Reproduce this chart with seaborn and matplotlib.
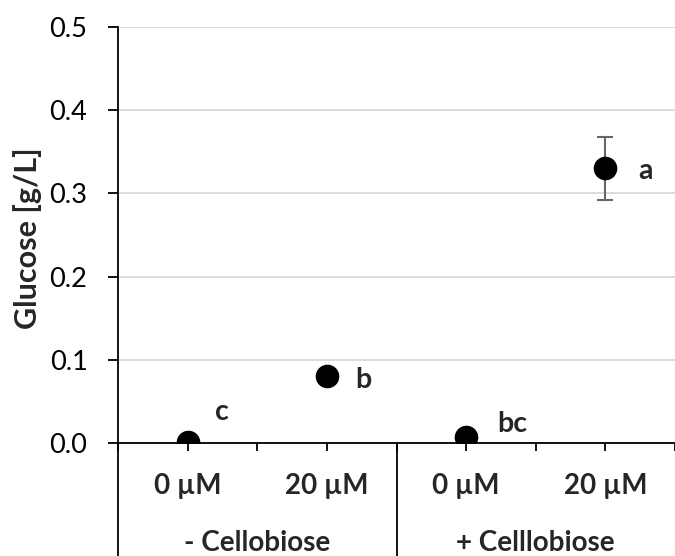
import matplotlib
matplotlib.use("Agg")
import matplotlib.pyplot as plt
import matplotlib.transforms as mtransforms
import numpy as np
import pandas as pd
import seaborn as sns

# Glucose release per treatment
concentrations = ["0 µM", "20 µM", "0 µM", "20 µM"]
groups = ["- Cellobiose", "+ Celllobiose"]
glucose = [0.001, 0.081, 0.007, 0.330]
glucose_err = [0.0, 0.0, 0.0, 0.038]
letters = ["c", "b", "bc", "a"]
y_ticks = [0.0, 0.1, 0.2, 0.3, 0.4, 0.5]

sns.set_theme(style="white")
plt.rcParams["font.family"] = ["Lato", "DejaVu Sans"]

df = pd.DataFrame({
    "pos": np.arange(len(glucose)),
    "glucose": glucose,
    "err": glucose_err,
})

fig = plt.figure(figsize=(6.75, 5.56), dpi=100)
ax = fig.add_axes([118 / 675, 113 / 556, 557 / 675, 416 / 556])

ax.errorbar(df["pos"], df["glucose"], yerr=df["err"], fmt="none",
            ecolor="#666666", elinewidth=1.5, capsize=6, capthick=1.5, zorder=2)
sns.scatterplot(data=df, x="pos", y="glucose", ax=ax, s=17 ** 2,
                color="black", edgecolor="black", linewidth=0, zorder=3,
                legend=False)

ax.set_xlim(-0.5, 3.5)
ax.set_ylim(0, 0.5)
ax.set_yticks(y_ticks)
ax.set_yticklabels([f"{v:.1f}" for v in y_ticks], fontsize=19.5, color="black")
ax.yaxis.grid(True, color="#d9d9d9", linewidth=1.3)
ax.set_axisbelow(True)

for side in ["top", "right"]:
    ax.spines[side].set_visible(False)
for side in ["left", "bottom"]:
    ax.spines[side].set_color("black")
    ax.spines[side].set_linewidth(1.3)

ax.tick_params(axis="y", direction="out", length=7, width=1.3, color="black",
               left=True, pad=15)
ax.set_xticks(np.arange(-0.5, 3.6, 0.5))
ax.set_xticklabels([])
ax.tick_params(axis="x", direction="out", length=6, width=1.3, color="black",
               bottom=True)
ax.set_xlabel("")
ax.set_ylabel("")
fig.text(28 / 675, 1 - 238 / 556, "Glucose [g/L]", fontsize=22,
         fontweight="bold", rotation=90, ha="center", va="center")

# letters of significance next to each point
offsets = [(0.246, 0.027), (0.265, -0.015), (0.333, 0.006), (0.288, -0.013)]
for i, (lab, (dx, dy)) in enumerate(zip(letters, offsets)):
    ax.text(i + dx, glucose[i] + dy, lab, fontsize=20.5, fontweight="bold",
            ha="center", va="baseline")

# two-level category axis below the plot
trans = mtransforms.blended_transform_factory(ax.transData, fig.transFigure)
for i, lab in enumerate(concentrations):
    ax.text(i, 1 - 494 / 556, lab, transform=trans, fontsize=20,
            fontweight="bold", ha="center", va="baseline")
for j, lab in enumerate(groups):
    ax.text(0.5 + 2 * j, 1 - 551 / 556, lab, transform=trans, fontsize=20,
            fontweight="bold", ha="center", va="baseline")

for xv in [-0.5, 1.5]:
    ax.plot([xv, xv], [0, -113 / 416 * 0.5 - 0.01], color="black",
            linewidth=1.3, clip_on=False, solid_capstyle="butt")

fig.savefig("out.png", dpi=100)
